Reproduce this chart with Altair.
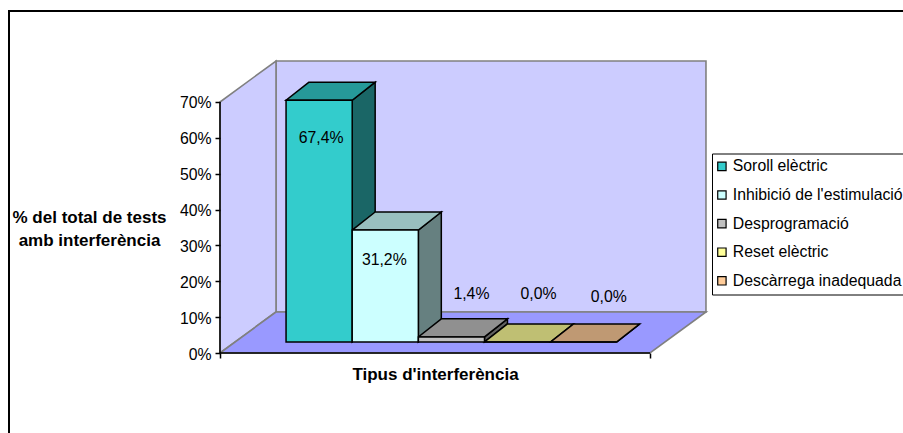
import altair as alt
import pandas as pd

series = ["Soroll elèctric", "Inhibició de l'estimulació", "Desprogramació", "Reset elèctric", "Descàrrega inadequada"]
values = [67.4, 31.2, 1.4, 0.0, 0.0]
labels = ["67,4%", "31,2%", "1,4%", "0,0%", "0,0%"]
front_colors = ["#33CCCC", "#CCFFFF", "#C0C0C0", "#FFFF99", "#FFCC99"]
top_colors = ["#269999", "#99BFBF", "#909090", "#BFBF73", "#BF9973"]
side_colors = ["#1A6666", "#668080", "#606060", "#808050", "#806650"]
y_ticks = [0, 10, 20, 30, 40, 50, 60, 70]

# Canvas and the oblique projection of the 3D box
W, H = 903, 433
ORIGIN_X, ORIGIN_Y = 220, 353   # front-left floor corner in pixels
SLOT_PX = 66.15                 # width of one bar
PCT_PX = 3.586                  # pixels per percentage point
GAP = 0.75                      # half of the 150% gap around the cluster
AXIS_LEN = 5 + 2 * GAP
DEPTH_X = 56 / SLOT_PX          # box depth, in x units
DEPTH_Y = 41 / PCT_PX           # box depth, in y units
BAR_D0, BAR_D1 = 0.27, 0.71     # bar front and back, as fractions of the depth
BAR_DEPTH_X = 0.41 * DEPTH_X    # horizontal run of a bar's side and top faces
BAR_SHIFT = 0.02                # small rightward nudge of the whole cluster
FONT = "Liberation Sans"

x_scale = alt.Scale(domain=[-ORIGIN_X / SLOT_PX, (W - ORIGIN_X) / SLOT_PX], nice=False, zero=False)
y_scale = alt.Scale(domain=[-(H - ORIGIN_Y) / PCT_PX, ORIGIN_Y / PCT_PX], nice=False, zero=False)

# Both axes are declared once and shared by every layer
x_axis = alt.Axis(
    values=[0, AXIS_LEN], orient="bottom", offset=-(H - ORIGIN_Y), labels=False, domain=False, grid=False,
    ticks=True, tickSize=5, tickColor="black", tickWidth=1.5, zindex=1,
    title="Tipus d'interferència", titleFont=FONT, titleFontSize=17, titleFontWeight="bold", titleColor="black",
    titleX=435, titleY=13, titleAnchor="middle",
)
y_axis = alt.Axis(
    values=y_ticks, orient="left", offset=-ORIGIN_X, domain=False, grid=False,
    ticks=True, tickSize=5, tickColor="black", tickWidth=1.5, zindex=1,
    labelExpr="datum.value + '%'", labelFont=FONT, labelFontSize=15.8, labelColor="black", labelPadding=4,
    labelOffset=1,
    title=["% del total de tests", "amb interferència"], titleFont=FONT, titleFontSize=17, titleFontWeight="bold",
    titleColor="black", titleAngle=0, titleX=-131, titleY=217, titleAlign="center", titleBaseline="middle",
    titleLineHeight=23,
)
X = lambda f: alt.X(f, type="quantitative", scale=x_scale, axis=x_axis)
Y = lambda f: alt.Y(f, type="quantitative", scale=y_scale, axis=y_axis)

TOP_PCT = y_ticks[-1]
GREY = "#808080"

# Walls and floor of the box
back_wall = pd.DataFrame({"x": [DEPTH_X], "x2": [AXIS_LEN + DEPTH_X], "y": [DEPTH_Y], "y2": [TOP_PCT + DEPTH_Y]})
left_wall = pd.DataFrame({"x": [0, DEPTH_X], "y": [0, DEPTH_Y], "y2": [TOP_PCT, TOP_PCT + DEPTH_Y]})
floor = pd.DataFrame({"y": [0, DEPTH_Y], "x": [0, DEPTH_X], "x2": [AXIS_LEN, AXIS_LEN + DEPTH_X]})
axis_line = pd.DataFrame({"x": [0], "y": [0], "y2": [TOP_PCT], "x2": [AXIS_LEN]})

# Faces of every bar, derived from its value
fronts, sides, tops = [], [], []
for i, (name, v) in enumerate(zip(series, values)):
    u0, u1 = GAP + BAR_SHIFT + i, GAP + BAR_SHIFT + i + 1
    fx = BAR_D0 * DEPTH_X
    bx = fx + BAR_DEPTH_X
    fy, by = BAR_D0 * DEPTH_Y, BAR_D1 * DEPTH_Y
    fronts.append({"series": name, "x": u0 + fx, "x2": u1 + fx, "y": fy, "y2": fy + v})
    sides += [
        {"bar": name, "c": side_colors[i], "x": u1 + fx, "y": fy, "y2": fy + v},
        {"bar": name, "c": side_colors[i], "x": u1 + bx, "y": by, "y2": by + v},
    ]
    tops += [
        {"bar": name, "c": top_colors[i], "y": fy + v, "x": u0 + fx, "x2": u1 + fx},
        {"bar": name, "c": top_colors[i], "y": by + v, "x": u0 + bx, "x2": u1 + bx},
    ]
fronts, sides, tops = map(pd.DataFrame, (fronts, sides, tops))

# Value labels sit at a per-bar pixel offset from the top centre of the front face
label_dx = [2, -1, 20, 21, 25]
label_dy = [37.5, 30, -43, -48, -45]
label_df = pd.DataFrame([
    {
        "text": t,
        "x": GAP + BAR_SHIFT + i + 0.5 + BAR_D0 * DEPTH_X + label_dx[i] / SLOT_PX,
        "y": BAR_D0 * DEPTH_Y + v - label_dy[i] / PCT_PX,
    }
    for i, (t, v) in enumerate(zip(labels, values))
])

frame = alt.Chart(pd.DataFrame({"a": [0]})).mark_rect(fillOpacity=0, stroke="black", strokeWidth=2).encode(
    x=alt.value(9), x2=alt.value(1200), y=alt.value(11), y2=alt.value(900)
)

wall_back = alt.Chart(back_wall).mark_rect(fill="#CCCCFF", stroke=GREY, strokeWidth=1.6).encode(
    x=X("x"), x2="x2", y=Y("y"), y2="y2"
)
wall_left = alt.Chart(left_wall).mark_area(fill="#CCCCFF", stroke=GREY, strokeWidth=1.6).encode(
    x=X("x"), y=Y("y"), y2="y2"
)
floor_layer = alt.Chart(floor).mark_area(orient="horizontal", fill="#9999FF", stroke=GREY, strokeWidth=1.6).encode(
    y=Y("y"), x=X("x"), x2="x2"
)

side_layer = alt.Chart(sides).mark_area(stroke="black", strokeWidth=1.5).encode(
    x=X("x"), y=Y("y"), y2="y2", detail="bar:N",
    color=alt.Color("c:N", scale=None, legend=None),
)
top_layer = alt.Chart(tops).mark_area(orient="horizontal", stroke="black", strokeWidth=1.5).encode(
    y=Y("y"), x=X("x"), x2="x2", detail="bar:N",
    color=alt.Color("c:N", scale=None, legend=None),
)
front_layer = alt.Chart(fronts).mark_rect(stroke="black", strokeWidth=1.5).encode(
    x=X("x"), x2="x2", y=Y("y"), y2="y2",
    fill=alt.Fill(
        "series:N",
        sort=series,
        scale=alt.Scale(domain=series, range=front_colors),
        legend=alt.Legend(
            title=None, orient="none", legendX=712, legendY=153.5,
            fillColor="white", strokeColor="black", padding=5,
            symbolType="square", symbolSize=70, symbolStrokeColor="black", symbolStrokeWidth=1.2,
            symbolOffset=-3,
            labelFont=FONT, labelFontSize=15.8, labelColor="black", labelLimit=400,
            labelOffset=3, rowPadding=11.6,
        ),
    ),
)

# Black lines along the left and bottom front edges of the box
axis_y_line = alt.Chart(axis_line).mark_rule(color="black", strokeWidth=1.5).encode(
    x=X("x"), y=Y("y"), y2="y2"
)
axis_x_line = alt.Chart(axis_line).mark_rule(color="black", strokeWidth=1.5).encode(
    x=X("x"), x2="x2", y=Y("y")
)

label_layer = alt.Chart(label_df).mark_text(font=FONT, fontSize=15.8, color="black", align="center", baseline="middle").encode(
    x=X("x"), y=Y("y"), text="text:N"
)

chart = alt.layer(
    frame, wall_back, wall_left, floor_layer, axis_y_line, axis_x_line, side_layer, top_layer, front_layer, label_layer
).resolve_scale(color="independent", fill="independent").properties(
    width=W, height=H, padding=0, background="white",
    autosize=alt.AutoSizeParams(type="none"),
).configure_view(stroke=None)

chart.save("out.html", embed_options={"renderer": "svg", "actions": False})
